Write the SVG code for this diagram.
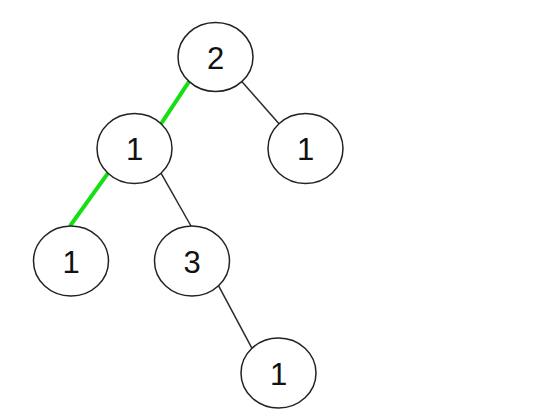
<svg xmlns="http://www.w3.org/2000/svg" width="539" height="417" viewBox="0 0 539 417">
<style>
.n ellipse{fill:#fff;stroke:#222;stroke-width:1.5}
.n text{font-family:"Liberation Sans",Arial,sans-serif;font-size:31px;fill:#111;text-anchor:middle;dominant-baseline:central}
.e{stroke:#2a2a2a;stroke-width:1.5}
.g{stroke:#14e014;stroke-width:4}
</style>
<rect width="539" height="417" fill="#fff"/>
<g id="connectors">
<line class="g" x1="189" y1="81.7" x2="161" y2="123.8"/>
<line class="e" x1="242" y1="81.7" x2="279" y2="123.8"/>
<line class="g" x1="108" y1="173.2" x2="70" y2="226"/>
<line class="e" x1="161" y1="173.2" x2="191" y2="226"/>
<line class="e" x1="218.5" y1="285.7" x2="252" y2="348.3"/>
</g>
<g id="n2" class="n"><ellipse cx="215.5" cy="57" rx="37.5" ry="34.5"/><text x="215.5" y="58">2</text></g>
<g id="n1a" class="n"><ellipse cx="134.5" cy="148.5" rx="37.5" ry="35"/><text x="134.5" y="149.5">1</text></g>
<g id="n1b" class="n"><ellipse cx="305.5" cy="148.5" rx="37.5" ry="35"/><text x="305.5" y="149.5">1</text></g>
<g id="n1c" class="n"><ellipse cx="71" cy="261" rx="37.5" ry="35"/><text x="71" y="262">1</text></g>
<g id="n3" class="n"><ellipse cx="192" cy="261" rx="37.5" ry="35"/><text x="192" y="262">3</text></g>
<g id="n1d" class="n"><ellipse cx="278.5" cy="373" rx="37.5" ry="35"/><text x="278.5" y="374">1</text></g>
</svg>
